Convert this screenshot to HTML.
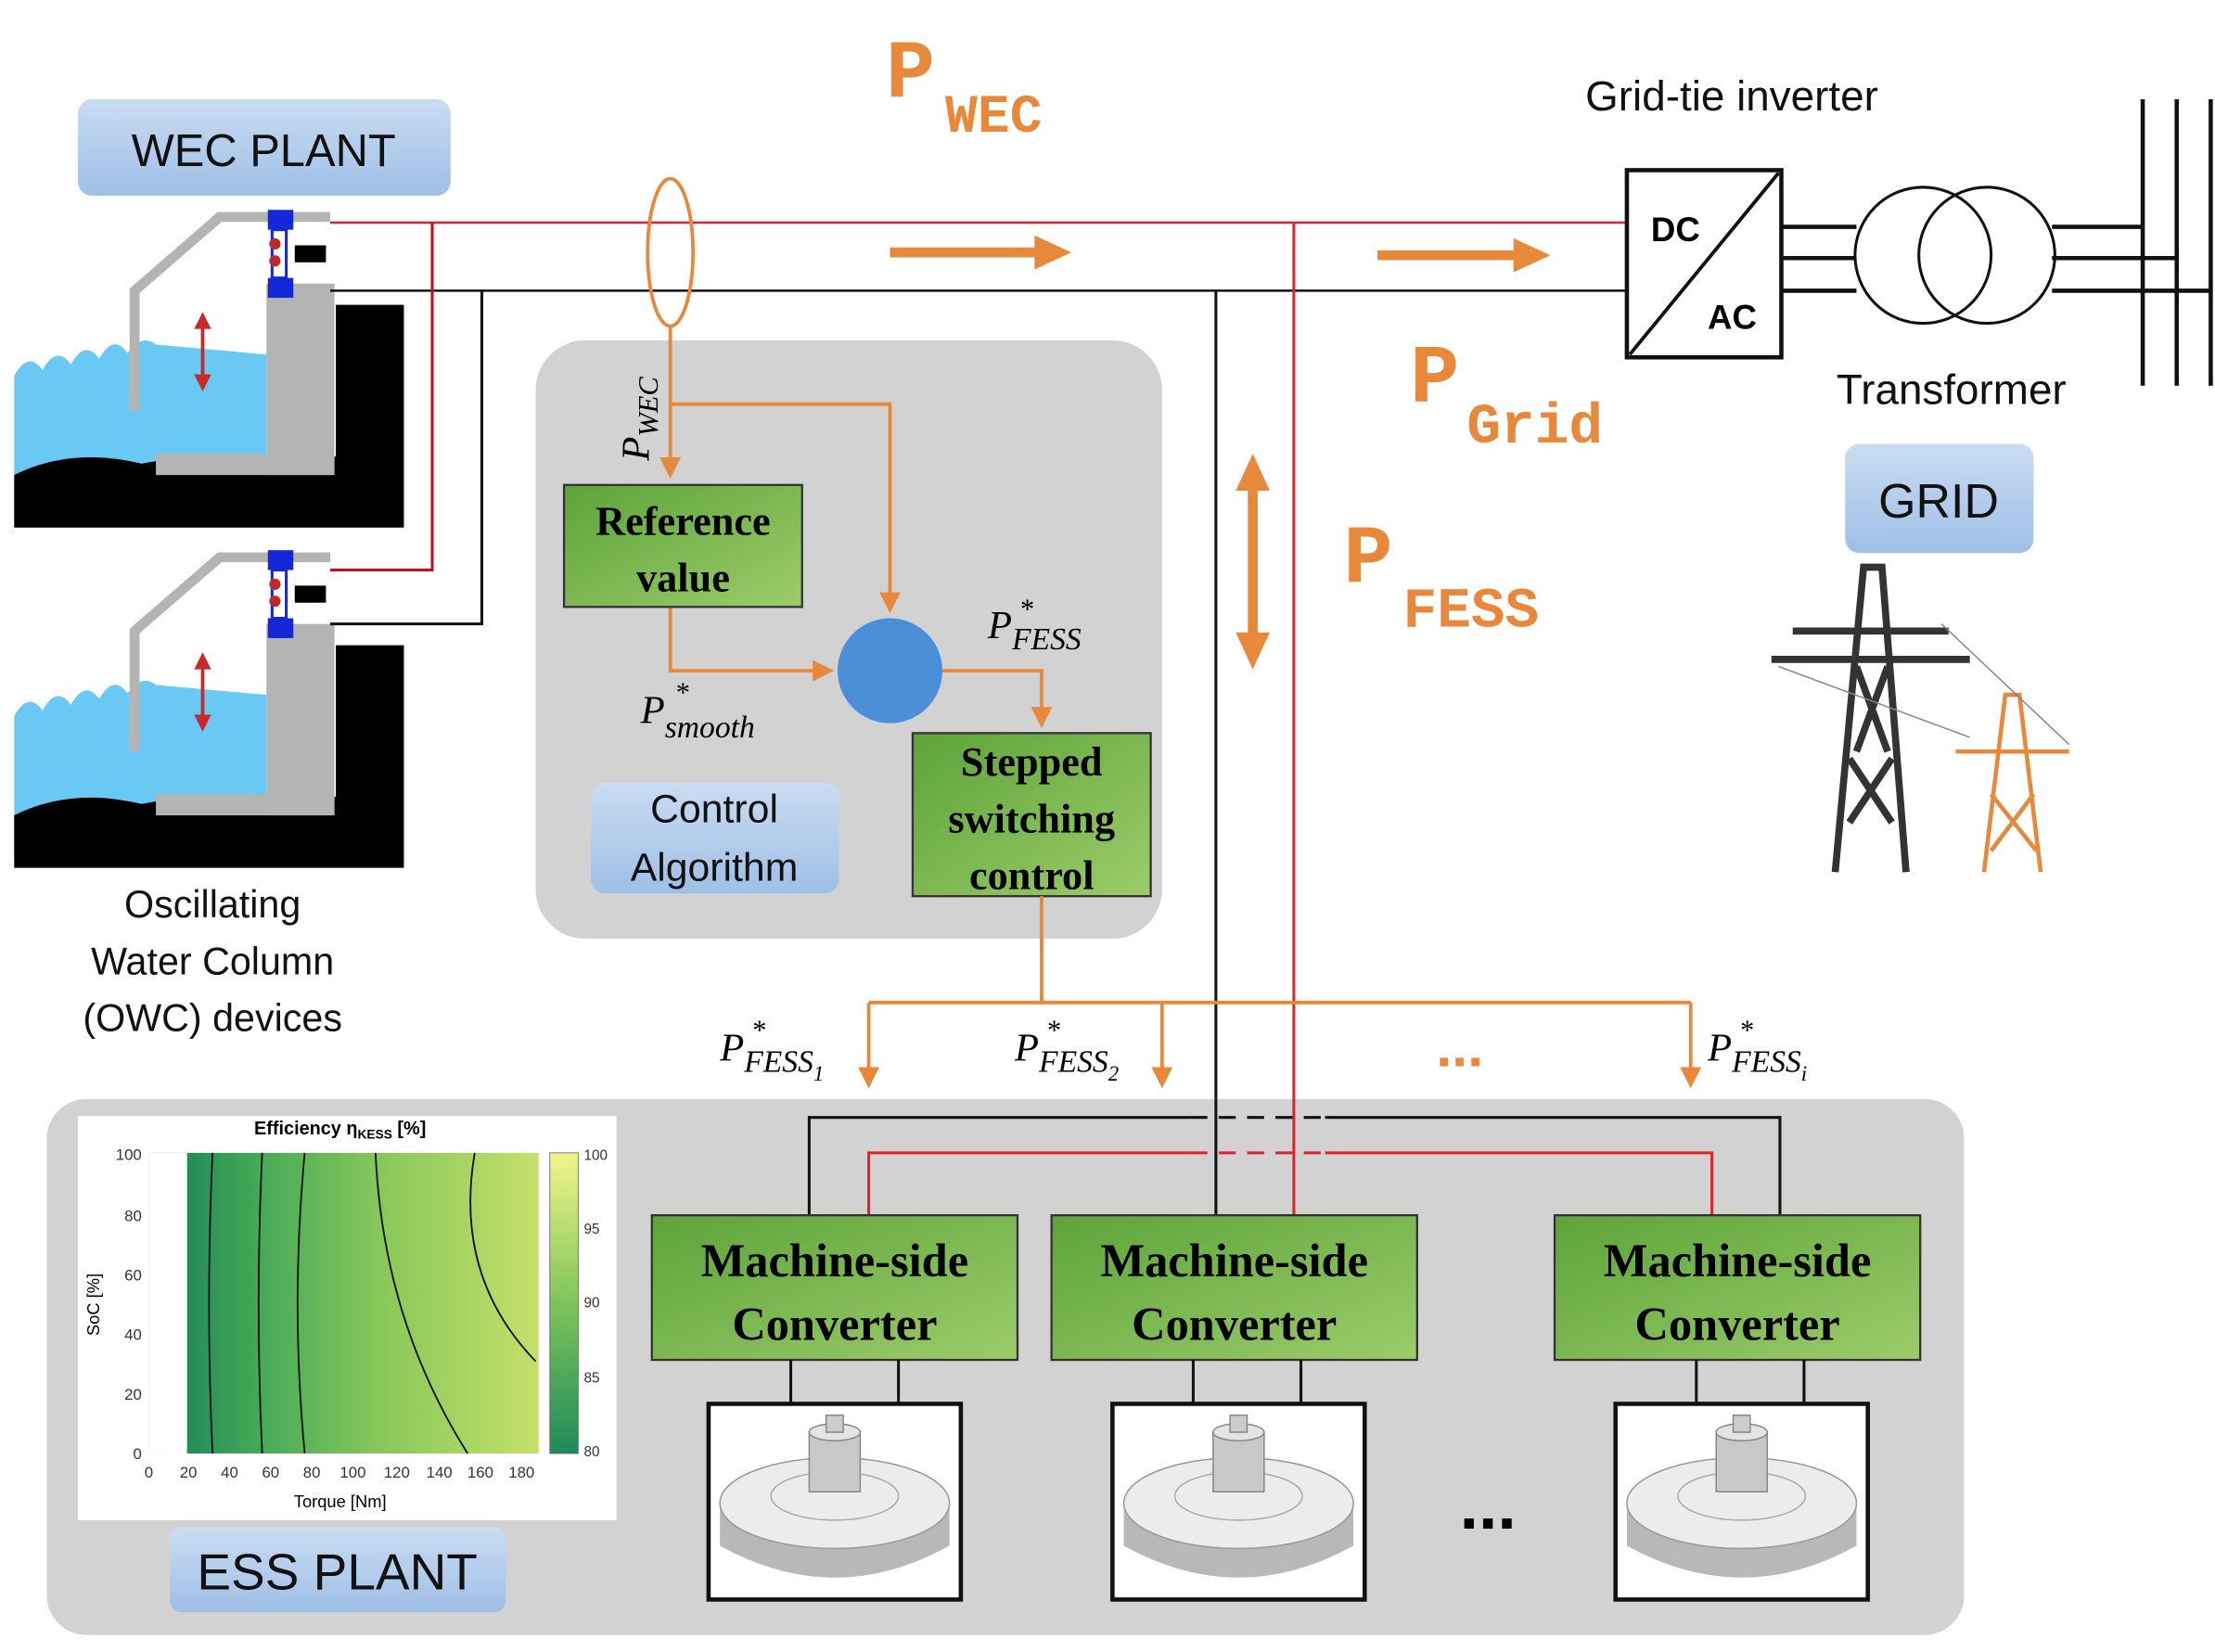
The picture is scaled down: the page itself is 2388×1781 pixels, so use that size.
<!DOCTYPE html>
<html><head><meta charset="utf-8"><style>
html,body{margin:0;padding:0;background:#fff}
svg{display:block}
text{font-family:"Liberation Sans",sans-serif}
text.serif,.serif text{font-family:"Liberation Serif",serif}
text.mono{font-family:"Liberation Mono",monospace}
</style></head><body>
<svg width="2388" height="1781" viewBox="0 0 1563 1165" preserveAspectRatio="none" xmlns="http://www.w3.org/2000/svg">
<defs>
<linearGradient id="bl" x1="0" y1="0" x2="0" y2="1"><stop offset="0" stop-color="#c9dcf2"/><stop offset="1" stop-color="#9fbfe6"/></linearGradient>
<linearGradient id="gr" x1="0" y1="0" x2="1" y2="1"><stop offset="0" stop-color="#5da33a"/><stop offset="1" stop-color="#9ccc6a"/></linearGradient>
<linearGradient id="hm" x1="0" y1="0" x2="1" y2="0"><stop offset="0" stop-color="#137a5e"/><stop offset="0.25" stop-color="#3ea556"/><stop offset="0.6" stop-color="#88c85a"/><stop offset="1" stop-color="#c4e06a"/></linearGradient>
<linearGradient id="cb" x1="0" y1="1" x2="0" y2="0"><stop offset="0" stop-color="#1f8a5a"/><stop offset="0.5" stop-color="#7ec45a"/><stop offset="1" stop-color="#f2f58a"/></linearGradient>
<marker id="oa" markerWidth="6" markerHeight="6" refX="5" refY="3" orient="auto"><path d="M0,0L6,3L0,6z" fill="#e8883a"/></marker>
<g id="owc">
<path d="M10,265 q10,-18 20,-4 q10,-18 20,-4 q10,-18 20,-4 q10,-18 20,-4 q10,-14 20,-6 L188,250 L188,335 L10,335z" fill="#6ac8f5"/>
<path d="M10,335 q40,-20 90,-8 q40,-8 88,-5 L237,322 L237,215 L285,215 L285,372 L10,372z" fill="#000"/>
<rect x="188" y="200" width="48" height="135" fill="#b4b4b4"/>
<rect x="110" y="320" width="126" height="15" fill="#b4b4b4"/>
<polyline points="233,153 155,153 95,205 95,290" fill="none" stroke="#b4b4b4" stroke-width="7"/>
<rect x="189" y="148" width="18" height="14" fill="#1428d8"/>
<rect x="189" y="196" width="18" height="14" fill="#1428d8"/>
<rect x="192" y="162" width="10" height="34" fill="none" stroke="#1428d8" stroke-width="2"/>
<circle cx="194" cy="172" r="4" fill="#c0282a"/><circle cx="194" cy="184" r="4" fill="#c0282a"/>
<rect x="208" y="173" width="22" height="12" fill="#000"/>
<line x1="143" y1="225" x2="143" y2="270" stroke="#c8282a" stroke-width="2.5"/>
<path d="M137,232 L143,220 L149,232z M137,264 L143,276 L149,264z" fill="#c8282a"/>
</g>
</defs>

<rect x="55" y="70" width="263" height="68" rx="10" fill="url(#bl)"/>
<text x="186" y="117" font-size="32" text-anchor="middle" fill="#111">WEC PLANT</text>
<use href="#owc"/>
<use href="#owc" transform="translate(0,240)"/>
<text x="150" y="647" font-size="27" text-anchor="middle" fill="#111">Oscillating</text>
<text x="150" y="687" font-size="27" text-anchor="middle" fill="#111">Water Column</text>
<text x="150" y="727" font-size="27" text-anchor="middle" fill="#111">(OWC) devices</text>

<polyline points="233,157 1150,157" stroke="#e0202a" stroke-width="1.6" fill="none"/>
<polyline points="233,205 1150,205" stroke="#111" stroke-width="1.6" fill="none"/>
<polyline points="305,157 305,402 233,402" stroke="#c01020" stroke-width="2" fill="none"/>
<polyline points="340,205 340,440 233,440" stroke="#111" stroke-width="2" fill="none"/>
<ellipse cx="473" cy="178" rx="16" ry="52" fill="none" stroke="#e8883a" stroke-width="2.5"/>
<line x1="628" y1="178" x2="735" y2="178" stroke="#e8883a" stroke-width="7"/>
<path d="M730,166 L756,178 L730,190z" fill="#e8883a"/>
<line x1="972" y1="180" x2="1075" y2="180" stroke="#e8883a" stroke-width="7"/>
<path d="M1068,168 L1094,180 L1068,192z" fill="#e8883a"/>
<text class="mono" x="625" y="68" font-size="58" font-weight="bold" fill="#e8883a">P</text>
<text class="mono" x="667" y="93" font-size="38" font-weight="bold" fill="#e8883a">WEC</text>

<text x="1222" y="78" font-size="30" text-anchor="middle" fill="#111">Grid-tie inverter</text>
<rect x="1148" y="120" width="109" height="132" fill="#fff" stroke="#111" stroke-width="3"/>
<line x1="1150" y1="250" x2="1255" y2="122" stroke="#111" stroke-width="2.5"/>
<text x="1165" y="170" font-size="24" font-weight="bold">DC</text>
<text x="1205" y="232" font-size="24" font-weight="bold">AC</text>
<line x1="1257" y1="160" x2="1310" y2="160" stroke="#111" stroke-width="3"/>
<line x1="1257" y1="182" x2="1310" y2="182" stroke="#111" stroke-width="3"/>
<line x1="1257" y1="205" x2="1310" y2="205" stroke="#111" stroke-width="3"/>
<circle cx="1357" cy="180" r="48" fill="none" stroke="#111" stroke-width="2"/>
<circle cx="1402" cy="180" r="48" fill="none" stroke="#111" stroke-width="2"/>
<line x1="1448" y1="160" x2="1512" y2="160" stroke="#111" stroke-width="3"/>
<line x1="1448" y1="182" x2="1536" y2="182" stroke="#111" stroke-width="3"/>
<line x1="1448" y1="205" x2="1560" y2="205" stroke="#111" stroke-width="3"/>
<line x1="1512" y1="70" x2="1512" y2="272" stroke="#111" stroke-width="3"/>
<line x1="1536" y1="70" x2="1536" y2="272" stroke="#111" stroke-width="3"/>
<line x1="1560" y1="70" x2="1560" y2="272" stroke="#111" stroke-width="3"/>
<text x="1377" y="285" font-size="30" text-anchor="middle" fill="#111">Transformer</text>
<text class="mono" x="995" y="283" font-size="58" font-weight="bold" fill="#e8883a">P</text>
<text class="mono" x="1035" y="312" font-size="40" font-weight="bold" fill="#e8883a">Grid</text>
<text class="mono" x="948" y="410" font-size="58" font-weight="bold" fill="#e8883a">P</text>
<text class="mono" x="990" y="442" font-size="40" font-weight="bold" fill="#e8883a">FESS</text>
<rect x="1302" y="313" width="133" height="77" rx="10" fill="url(#bl)"/>
<text x="1368" y="365" font-size="34" text-anchor="middle" fill="#111">GRID</text>
<g stroke="#333" stroke-width="5" fill="none">
<path d="M1295,615 L1315,400 L1328,400 L1345,615"/>
<path d="M1250,465 L1390,465 M1265,445 L1375,445 M1305,535 L1335,580 M1335,535 L1305,580 M1310,470 L1332,530 M1332,470 L1310,530"/>
</g>
<g stroke="#e8883a" stroke-width="3" fill="none">
<path d="M1400,615 L1415,490 L1425,490 L1440,615 M1380,530 L1460,530 M1405,560 L1437,600 M1435,560 L1405,600"/>
</g>
<line x1="1255" y1="470" x2="1390" y2="520" stroke="#888" stroke-width="1"/>
<line x1="1370" y1="440" x2="1460" y2="525" stroke="#888" stroke-width="1"/>

<line x1="858" y1="205" x2="858" y2="892" stroke="#111" stroke-width="2"/>
<line x1="913" y1="157" x2="913" y2="860" stroke="#e0202a" stroke-width="2"/>
<line x1="884" y1="340" x2="884" y2="452" stroke="#e8883a" stroke-width="7"/>
<path d="M872,346 L884,320 L896,346z M872,446 L884,472 L896,446z" fill="#e8883a"/>

<rect x="378" y="240" width="442" height="422" rx="35" fill="#d2d2d2"/>
<polyline points="473,230 473,335" stroke="#e8883a" stroke-width="2.5" fill="none" marker-end="url(#oa)"/>
<polyline points="473,285 628,285 628,430" stroke="#e8883a" stroke-width="2.5" fill="none" marker-end="url(#oa)"/>
<polyline points="473,428 473,473 586,473" stroke="#e8883a" stroke-width="2.5" fill="none" marker-end="url(#oa)"/>
<polyline points="665,473 735,473 735,511" stroke="#e8883a" stroke-width="2.5" fill="none" marker-end="url(#oa)"/>
<text class="serif" transform="translate(458,325) rotate(-90)" font-size="28" font-style="italic">P<tspan font-size="20" dy="6">WEC</tspan></text>
<rect x="398" y="342" width="168" height="86" fill="url(#gr)" stroke="#333" stroke-width="1.5"/>
<text class="serif" x="482" y="377" font-size="29" font-weight="bold" text-anchor="middle">Reference</text>
<text class="serif" x="482" y="417" font-size="29" font-weight="bold" text-anchor="middle">value</text>
<circle cx="628" cy="473" r="37" fill="#4a8fd8"/>
<text class="serif" x="452" y="510" font-size="28" font-style="italic">P<tspan font-size="22" dy="10">smooth</tspan></text>
<text class="serif" x="476" y="495" font-size="20" font-style="italic">*</text>
<text class="serif" x="697" y="450" font-size="28" font-style="italic">P<tspan font-size="22" dy="8">FESS</tspan></text>
<text class="serif" x="719" y="436" font-size="20" font-style="italic">*</text>
<rect x="644" y="517" width="168" height="115" fill="url(#gr)" stroke="#333" stroke-width="1.5"/>
<text class="serif" x="728" y="547" font-size="29" font-weight="bold" text-anchor="middle">Stepped</text>
<text class="serif" x="728" y="587" font-size="29" font-weight="bold" text-anchor="middle">switching</text>
<text class="serif" x="728" y="627" font-size="29" font-weight="bold" text-anchor="middle">control</text>
<rect x="417" y="552" width="175" height="78" rx="10" fill="url(#bl)"/>
<text x="504" y="580" font-size="28" text-anchor="middle" fill="#111">Control</text>
<text x="504" y="621" font-size="28" text-anchor="middle" fill="#111">Algorithm</text>

<polyline points="735,632 735,707" stroke="#e8883a" stroke-width="2.5" fill="none"/>
<polyline points="613,707 1193,707" stroke="#e8883a" stroke-width="2.5" fill="none"/>
<line x1="613" y1="707" x2="613" y2="765" stroke="#e8883a" stroke-width="2.5" marker-end="url(#oa)"/>
<line x1="820" y1="707" x2="820" y2="765" stroke="#e8883a" stroke-width="2.5" marker-end="url(#oa)"/>
<line x1="1193" y1="707" x2="1193" y2="765" stroke="#e8883a" stroke-width="2.5" marker-end="url(#oa)"/>
<text class="serif" x="508" y="748" font-size="28" font-style="italic">P<tspan font-size="22" dy="8">FESS<tspan font-size="15" dy="6">1</tspan></tspan></text>
<text class="serif" x="530" y="733" font-size="20" font-style="italic">*</text>
<text class="serif" x="716" y="748" font-size="28" font-style="italic">P<tspan font-size="22" dy="8">FESS<tspan font-size="15" dy="6">2</tspan></tspan></text>
<text class="serif" x="738" y="733" font-size="20" font-style="italic">*</text>
<text class="serif" x="1205" y="748" font-size="28" font-style="italic">P<tspan font-size="22" dy="8">FESS<tspan font-size="15" dy="6">i</tspan></tspan></text>
<text class="serif" x="1227" y="733" font-size="20" font-style="italic">*</text>
<text x="1030" y="752" font-size="40" font-weight="bold" fill="#e8883a" text-anchor="middle">...</text>

<rect x="33" y="775" width="1353" height="378" rx="28" fill="#d2d2d2"/>
<line x1="858" y1="775" x2="858" y2="860" stroke="#111" stroke-width="2"/>
<line x1="913" y1="775" x2="913" y2="860" stroke="#e0202a" stroke-width="2"/>
<polyline points="571,857 571,788 840,788" stroke="#111" stroke-width="2" fill="none"/>
<polyline points="935,788 1256,788 1256,857" stroke="#111" stroke-width="2" fill="none"/>
<line x1="840" y1="788" x2="935" y2="788" stroke="#111" stroke-width="2" stroke-dasharray="12,8"/>
<polyline points="613,857 613,813 840,813" stroke="#e0202a" stroke-width="2" fill="none"/>
<polyline points="935,813 1208,813 1208,857" stroke="#e0202a" stroke-width="2" fill="none"/>
<line x1="840" y1="813" x2="935" y2="813" stroke="#e0202a" stroke-width="2" stroke-dasharray="12,8"/>
<g font-size="33" font-weight="bold" text-anchor="middle" class="serif">
<rect x="460" y="857" width="258" height="102" fill="url(#gr)" stroke="#333" stroke-width="1.5"/>
<text x="589" y="900">Machine-side</text><text x="589" y="945">Converter</text>
<rect x="742" y="857" width="258" height="102" fill="url(#gr)" stroke="#333" stroke-width="1.5"/>
<text x="871" y="900">Machine-side</text><text x="871" y="945">Converter</text>
<rect x="1097" y="857" width="258" height="102" fill="url(#gr)" stroke="#333" stroke-width="1.5"/>
<text x="1226" y="900">Machine-side</text><text x="1226" y="945">Converter</text>
</g>
<g stroke="#111" stroke-width="2">
<line x1="558" y1="959" x2="558" y2="990"/><line x1="634" y1="959" x2="634" y2="990"/>
<line x1="842" y1="959" x2="842" y2="990"/><line x1="918" y1="959" x2="918" y2="990"/>
<line x1="1197" y1="959" x2="1197" y2="990"/><line x1="1273" y1="959" x2="1273" y2="990"/>
</g>
<g id="fw">
<rect x="500" y="990" width="178" height="138" fill="#fff" stroke="#111" stroke-width="3"/>
<path d="M508,1060 L508,1090 Q589,1135 670,1090 L670,1060z" fill="#b8b8b8"/>
<ellipse cx="589" cy="1060" rx="81" ry="32" fill="#ececec" stroke="#999"/>
<ellipse cx="589" cy="1055" rx="45" ry="17" fill="none" stroke="#aaa"/>
<rect x="571" y="1010" width="36" height="42" fill="#c8c8c8" stroke="#888"/>
<ellipse cx="589" cy="1010" rx="18" ry="6" fill="#e4e4e4" stroke="#888"/>
<rect x="583" y="998" width="12" height="12" fill="#ccc" stroke="#888"/>
</g>
<use href="#fw" transform="translate(285,0)"/>
<use href="#fw" transform="translate(640,0)"/>
<text x="1050" y="1078" font-size="48" font-weight="bold" text-anchor="middle">...</text>

<rect x="55" y="787" width="380" height="285" fill="#fff"/>
<text x="240" y="800" font-size="13" font-weight="bold" text-anchor="middle">Efficiency η<tspan font-size="9" dy="3">KESS</tspan><tspan dy="-3"> [%]</tspan></text>
<rect x="105" y="813" width="275" height="212" fill="url(#hm)"/>
<rect x="105" y="813" width="27" height="212" fill="#fff"/>
<g fill="none" stroke="#111" stroke-width="1.2">
<path d="M150,813 Q145,920 150,1025"/><path d="M185,813 Q180,920 185,1025"/>
<path d="M215,813 Q205,920 215,1025"/><path d="M265,813 Q270,930 330,1025"/>
<path d="M335,813 Q320,900 378,960"/>
</g>
<g font-size="11" fill="#333" text-anchor="end">
<text x="100" y="818">100</text><text x="100" y="861">80</text><text x="100" y="903">60</text><text x="100" y="945">40</text><text x="100" y="987">20</text><text x="100" y="1029">0</text>
</g>
<g font-size="11" fill="#333" text-anchor="middle">
<text x="105" y="1042">0</text><text x="133" y="1042">20</text><text x="162" y="1042">40</text><text x="191" y="1042">60</text><text x="220" y="1042">80</text><text x="249" y="1042">100</text><text x="280" y="1042">120</text><text x="310" y="1042">140</text><text x="339" y="1042">160</text><text x="368" y="1042">180</text>
</g>
<text x="240" y="1063" font-size="12" text-anchor="middle">Torque [Nm]</text>
<text transform="translate(70,920) rotate(-90)" font-size="12" text-anchor="middle">SoC [%]</text>
<rect x="388" y="813" width="20" height="212" fill="url(#cb)" stroke="#555" stroke-width="0.5"/>
<g font-size="10" fill="#333"><text x="412" y="818">100</text><text x="412" y="870">95</text><text x="412" y="922">90</text><text x="412" y="975">85</text><text x="412" y="1027">80</text></g>
<rect x="120" y="1077" width="237" height="60" rx="8" fill="url(#bl)"/>
<text x="238" y="1121" font-size="36" text-anchor="middle" fill="#111">ESS PLANT</text>
</svg>
</body></html>
